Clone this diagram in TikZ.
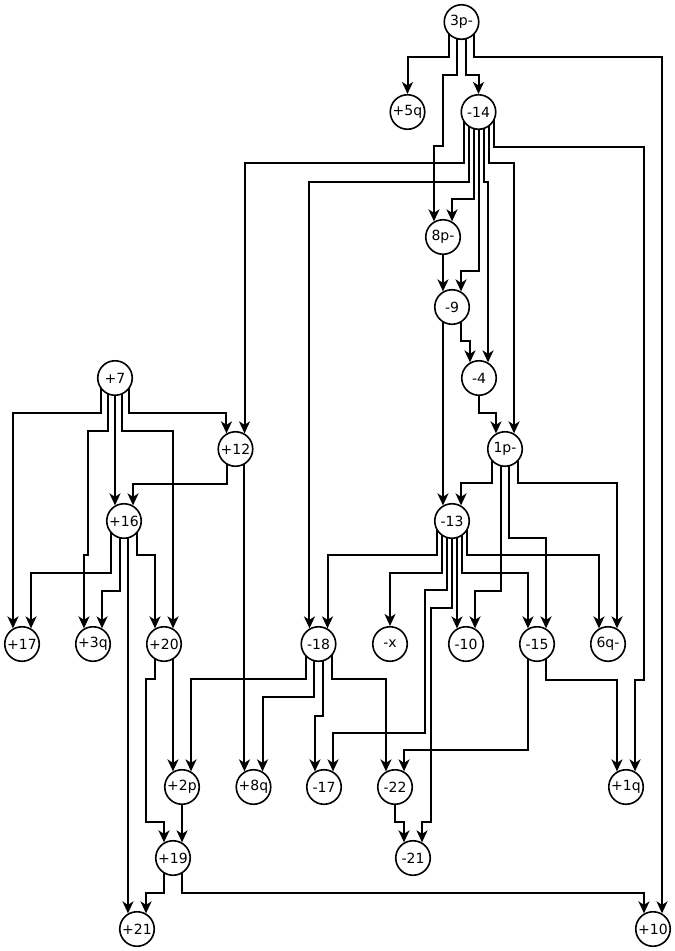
\documentclass[tikz,border=0pt]{standalone}
\usepackage{fontspec}
\newfontfamily\vfont{DejaVu Sans}
\usetikzlibrary{arrows.meta,backgrounds}
\tikzset{
  vtx/.style={circle, draw, line width=1.6pt, fill=white, minimum size=34.5pt, inner sep=0pt,
    font={\vfont\fontsize{14}{16}\selectfont}},
  conn/.style={line width=2pt, -{Stealth[length=12pt,width=11pt,inset=3.5pt]}}
}
\begin{document}
\begin{tikzpicture}[x=1pt,y=-1pt]
\useasboundingbox (0,0) rectangle (675,951);
% nodes
\node[vtx] (n3p) at (461.5,22) {3p-};
\node[vtx] (n5q) at (407.5,112) {+5q};
\node[vtx] (n14) at (478.5,112) {-14};
\node[vtx] (n8p) at (443,237) {8p-};
\node[vtx] (n9) at (452,307) {-9};
\node[vtx] (n4) at (479,378) {-4};
\node[vtx] (p7) at (115,378) {+7};
\node[vtx] (p12) at (235.5,449) {+12};
\node[vtx] (n1p) at (505,449) {1p-};
\node[vtx] (p16) at (124,521) {+16};
\node[vtx] (n13) at (452,521) {-13};
\node[vtx] (p17) at (22,644) {+17};
\node[vtx] (p3q) at (93,644) {+3q};
\node[vtx] (p20) at (164,644) {+20};
\node[vtx] (n18) at (318.5,644) {-18};
\node[vtx] (nx) at (390,644) {-x};
\node[vtx] (n10) at (466,644) {-10};
\node[vtx] (n15) at (537,644) {-15};
\node[vtx] (n6q) at (608,644) {6q-};
\node[vtx] (p2p) at (182,787) {+2p};
\node[vtx] (p8q) at (253.5,787) {+8q};
\node[vtx] (n17) at (324,787) {-17};
\node[vtx] (n22) at (395,787) {-22};
\node[vtx] (p1q) at (626,787) {+1q};
\node[vtx] (p19) at (173,858) {+19};
\node[vtx] (n21) at (413,858) {-21};
\node[vtx] (p21) at (137,929) {+21};
\node[vtx] (p10) at (653,929) {+10};
\begin{pgfonlayer}{background}
% 3p-
\draw[conn] ([xshift=-12.5pt]n3p.center) |- (n5q.north |- 0,57) -- (n5q.north);
\draw[conn] ([xshift=-4.2pt]n3p.center) |- (443.3,75) |- (n8p.120 |- 0,146) -- (n8p.120);
\draw[conn] ([xshift=4.2pt]n3p.center) |- (n14.north |- 0,75) -- (n14.north);
\draw[conn] ([xshift=12.5pt]n3p.center) |- (p10.60 |- 0,57) -- (p10.60);
% -14
\draw[conn] ([xshift=-15pt]n14.center) |- (p12.60 |- 0,163.3) -- (p12.60);
\draw[conn] ([xshift=-10pt]n14.center) |- (n18.120 |- 0,181.7) -- (n18.120);
\draw[conn] ([xshift=-5pt]n14.center) |- (n8p.60 |- 0,199.3) -- (n8p.60);
\draw[conn] (n14.center) |- (n9.60 |- 0,270.7) -- (n9.60);
\draw[conn] ([xshift=5pt]n14.center) |- (n4.60 |- 0,181.7) -- (n4.60);
\draw[conn] ([xshift=10pt]n14.center) |- (n1p.60 |- 0,163.3) -- (n1p.60);
\draw[conn] ([xshift=15pt]n14.center) |- (644,146.7) |- (p1q.60 |- 0,680) -- (p1q.60);
% 8p-
\draw[conn] (n9.120 |- n8p.center) -- (n9.120);
% -9
\draw[conn] (n13.120 |- n9.center) -- (n13.120);
\draw[conn] ([xshift=9pt]n9.center) |- (n4.120 |- 0,340.7) -- (n4.120);
% -4
\draw[conn] (n4.center) |- (n1p.120 |- 0,413.3) -- (n1p.120);
% +7
\draw[conn] ([xshift=-14.4pt]p7.center) |- (p17.120 |- 0,412.7) -- (p17.120);
\draw[conn] ([xshift=-7.2pt]p7.center) |- (88.3,430.7) |- (p3q.120 |- 0,555) -- (p3q.120);
\draw[conn] (p16.120 |- p7.center) -- (p16.120);
\draw[conn] ([xshift=7.2pt]p7.center) |- (p20.60 |- 0,430.7) -- (p20.60);
\draw[conn] ([xshift=14.4pt]p7.center) |- (p12.120 |- 0,412.7) -- (p12.120);
% +12
\draw[conn] ([xshift=-9pt]p12.center) |- (p16.60 |- 0,484) -- (p16.60);
\draw[conn] (p8q.120 |- p12.center) -- (p8q.120);
% 1p-
\draw[conn] ([xshift=-13pt]n1p.center) |- (n13.60 |- 0,483.3) -- (n13.60);
\draw[conn] ([xshift=-4.3pt]n1p.center) |- (n10.60 |- 0,590.7) -- (n10.60);
\draw[conn] ([xshift=4.3pt]n1p.center) |- (n15.60 |- 0,537.7) -- (n15.60);
\draw[conn] ([xshift=13pt]n1p.center) |- (n6q.60 |- 0,483.3) -- (n6q.60);
% +16
\draw[conn] ([xshift=-13pt]p16.center) |- (p17.60 |- 0,572.7) -- (p17.60);
\draw[conn] ([xshift=-4.3pt]p16.center) |- (p3q.60 |- 0,590.7) -- (p3q.60);
\draw[conn] (p21.120 |- p16.center) -- (p21.120);
\draw[conn] ([xshift=13pt]p16.center) |- (p20.120 |- 0,555) -- (p20.120);
% -13
\draw[conn] ([xshift=-15pt]n13.center) |- (n18.60 |- 0,555) -- (n18.60);
\draw[conn] ([xshift=-10pt]n13.center) |- (nx.north |- 0,572.7) -- (nx.north);
\draw[conn] ([xshift=-5pt]n13.center) |- (425,590) |- (n17.60 |- 0,732.7) -- (n17.60);
\draw[conn] (n13.center) |- (430.5,608.3) |- (n21.60 |- 0,821.7) -- (n21.60);
\draw[conn] (n10.120 |- n13.center) -- (n10.120);
\draw[conn] ([xshift=10pt]n13.center) |- (n15.120 |- 0,572.7) -- (n15.120);
\draw[conn] ([xshift=15pt]n13.center) |- (n6q.120 |- 0,555) -- (n6q.120);
% -18
\draw[conn] ([xshift=-13pt]n18.center) |- (p2p.60 |- 0,679.3) -- (p2p.60);
\draw[conn] ([xshift=-4.3pt]n18.center) |- (p8q.60 |- 0,697.3) -- (p8q.60);
\draw[conn] ([xshift=4.3pt]n18.center) |- (n17.120 |- 0,715.7) -- (n17.120);
\draw[conn] ([xshift=13pt]n18.center) |- (n22.120 |- 0,679.3) -- (n22.120);
% -15
\draw[conn] ([xshift=-9pt]n15.center) |- (n22.60 |- 0,750) -- (n22.60);
\draw[conn] ([xshift=9pt]n15.center) |- (p1q.120 |- 0,680) -- (p1q.120);
% +20
\draw[conn] ([xshift=-9pt]p20.center) |- (146,679.3) |- (p19.120 |- 0,822.3) -- (p19.120);
\draw[conn] (p2p.120 |- p20.center) -- (p2p.120);
% +2p
\draw[conn] (p19.60 |- p2p.center) -- (p19.60);
% +19
\draw[conn] ([xshift=-9pt]p19.center) |- (p21.60 |- 0,893.3) -- (p21.60);
\draw[conn] ([xshift=9pt]p19.center) |- (p10.120 |- 0,893.3) -- (p10.120);
% -22
\draw[conn] (n22.center) |- (n21.120 |- 0,822.3) -- (n21.120);
\end{pgfonlayer}
\end{tikzpicture}
\end{document}
